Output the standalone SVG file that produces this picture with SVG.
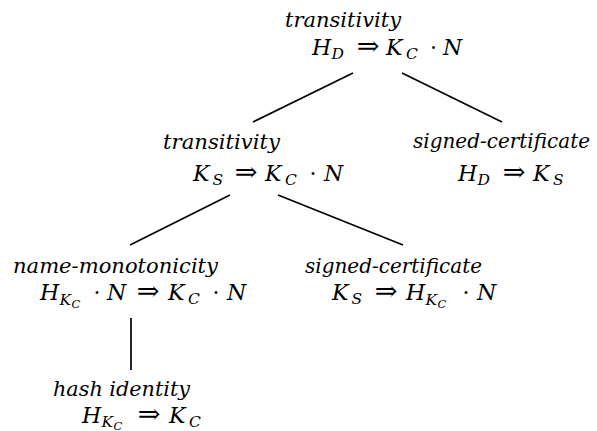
<svg xmlns="http://www.w3.org/2000/svg" width="597" height="431" viewBox="0 0 597 431">
<style>
  text { font-family: 'DejaVu Serif', 'Liberation Serif', serif; fill: #000; }
  .lbl { font-style: italic; font-size: 20px; }
  .m { font-style: italic; font-size: 22px; }
  .s1 { font-style: italic; font-size: 15.5px; }
  .s2 { font-style: italic; font-size: 11.5px; }
  .op { font-size: 22px; text-anchor: middle; }
  .arr { font-size: 27px; text-anchor: middle; }
  .edge { stroke: #000; stroke-width: 1.7; fill: none; }
</style>
<rect width="597" height="431" fill="#fff"/>
<g id="connectors">
  <line class="edge" x1="353" y1="73" x2="253" y2="122"/>
  <line class="edge" x1="402" y1="73" x2="502" y2="122"/>
  <line class="edge" x1="230" y1="195" x2="130" y2="245"/>
  <line class="edge" x1="278" y1="195" x2="403" y2="245"/>
  <line class="edge" x1="131" y1="318" x2="131" y2="370"/>
</g>
<g id="n1">
  <text class="lbl" x="285" y="27" textLength="116" lengthAdjust="spacingAndGlyphs">transitivity</text>
  <text class="m" x="312" y="55">H</text>
  <text class="s1" x="331.5" y="59">D</text>
  <text class="arr" x="368" y="55">⇒</text>
  <text class="m" x="386" y="55">K</text>
  <text class="s1" x="406" y="59">C</text>
  <text class="op" x="433.5" y="55">·</text>
  <text class="m" x="443" y="55">N</text>
</g>
<g id="n2">
  <text class="lbl" x="163" y="149" textLength="117" lengthAdjust="spacingAndGlyphs">transitivity</text>
  <text class="m" x="193" y="181">K</text>
  <text class="s1" x="212.5" y="185">S</text>
  <text class="arr" x="246" y="181">⇒</text>
  <text class="m" x="265" y="181">K</text>
  <text class="s1" x="285" y="185">C</text>
  <text class="op" x="313" y="181">·</text>
  <text class="m" x="324" y="181">N</text>
</g>
<g id="n3">
  <text class="lbl" x="413" y="148" textLength="177" lengthAdjust="spacingAndGlyphs">signed-certificate</text>
  <text class="m" x="458" y="181">H</text>
  <text class="s1" x="477.5" y="185">D</text>
  <text class="arr" x="514" y="181">⇒</text>
  <text class="m" x="533" y="181">K</text>
  <text class="s1" x="553" y="185">S</text>
</g>
<g id="n4">
  <text class="lbl" x="13" y="273" textLength="205" lengthAdjust="spacingAndGlyphs">name-monotonicity</text>
  <text class="m" x="40" y="300">H</text>
  <text class="s1" x="59.5" y="305">K</text>
  <text class="s2" x="71.5" y="308">C</text>
  <text class="op" x="97" y="300">·</text>
  <text class="m" x="107" y="300">N</text>
  <text class="arr" x="148" y="300">⇒</text>
  <text class="m" x="168" y="300">K</text>
  <text class="s1" x="188" y="304">C</text>
  <text class="op" x="216" y="300">·</text>
  <text class="m" x="227" y="300">N</text>
</g>
<g id="n5">
  <text class="lbl" x="305" y="273" textLength="177" lengthAdjust="spacingAndGlyphs">signed-certificate</text>
  <text class="m" x="332" y="300">K</text>
  <text class="s1" x="351.5" y="304">S</text>
  <text class="arr" x="386" y="300">⇒</text>
  <text class="m" x="406" y="300">H</text>
  <text class="s1" x="425.5" y="305">K</text>
  <text class="s2" x="437.5" y="308">C</text>
  <text class="op" x="466" y="300">·</text>
  <text class="m" x="477" y="300">N</text>
</g>
<g id="n6">
  <text class="lbl" x="53" y="396" textLength="137" lengthAdjust="spacingAndGlyphs">hash identity</text>
  <text class="m" x="82" y="423">H</text>
  <text class="s1" x="101.5" y="427">K</text>
  <text class="s2" x="113.5" y="429.5">C</text>
  <text class="arr" x="149" y="423">⇒</text>
  <text class="m" x="169" y="423">K</text>
  <text class="s1" x="189" y="427">C</text>
</g>
</svg>
